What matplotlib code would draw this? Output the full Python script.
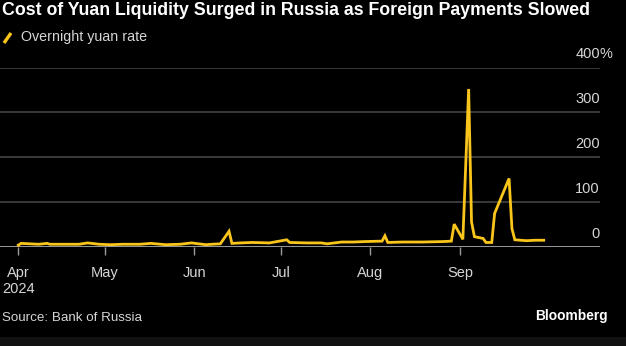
import matplotlib
matplotlib.use("Agg")
import matplotlib.pyplot as plt
import matplotlib.transforms as mtransforms
import pandas as pd

# Overnight yuan repo rate, % (Bank of Russia)
dates = [
    "2024-04-01", "2024-04-02", "2024-04-05", "2024-04-08", "2024-04-11",
    "2024-04-12", "2024-04-16", "2024-04-22", "2024-04-25", "2024-04-29",
    "2024-05-03", "2024-05-07", "2024-05-13", "2024-05-17", "2024-05-22",
    "2024-05-27", "2024-05-31", "2024-06-05", "2024-06-07", "2024-06-10",
    "2024-06-13", "2024-06-14", "2024-06-17", "2024-06-21", "2024-06-27",
    "2024-07-03", "2024-07-04", "2024-07-10", "2024-07-15", "2024-07-17",
    "2024-07-22", "2024-07-26", "2024-07-30", "2024-08-05", "2024-08-06",
    "2024-08-07", "2024-08-12", "2024-08-19", "2024-08-26", "2024-08-29",
    "2024-08-30", "2024-09-02", "2024-09-04", "2024-09-05", "2024-09-06",
    "2024-09-09", "2024-09-10", "2024-09-12", "2024-09-13", "2024-09-18",
    "2024-09-19", "2024-09-20", "2024-09-24", "2024-09-27", "2024-09-30",
]
rate = [
    3, 7, 6, 5, 7,
    5, 5, 5, 8, 5,
    4, 5, 5, 7, 4,
    5, 8, 4, 5, 6,
    34, 7, 8, 9, 8,
    15, 9, 8, 8, 6,
    10, 10, 11, 12, 24,
    9, 10, 10, 11, 12,
    50, 16, 352, 55, 22,
    18, 9, 9, 74, 152,
    40, 15, 13, 14, 14,
]

y_ticks = [0, 100, 200, 300, 400]
month_ticks = ["2024-04-01", "2024-05-01", "2024-06-01", "2024-07-01",
               "2024-08-01", "2024-09-01"]
month_labels = ["Apr\n2024", "May", "Jun", "Jul", "Aug", "Sep"]

title = "Cost of Yuan Liquidity Surged in Russia as Foreign Payments Slowed"
legend_label = "Overnight yuan rate"
source = "Source: Bank of Russia"

BG = "#000000"
LINE = "#F9C51A"
GRID = "#4a4a4a"
AXIS = "#9a9a9a"
TXT = "#d6d6d6"
FONT = "Liberation Sans"

W, H = 626, 346
fig = plt.figure(figsize=(W / 100, H / 100), dpi=100, facecolor=BG)

# footer band
fig.patches.append(plt.Rectangle((0, 0), 1, 9 / H, transform=fig.transFigure,
                                 facecolor="#111111", edgecolor="none"))

y0_px, y400_px = 246.5, 67.5
ax = fig.add_axes([0, (H - y0_px) / H, 600 / W, (y0_px - y400_px) / H])
ax.set_facecolor(BG)
for s in ax.spines.values():
    s.set_visible(False)

x = pd.to_datetime(dates)
ax.set_xlim(pd.Timestamp("2024-03-25 16:00"), pd.Timestamp("2024-10-19 12:00"))
ax.set_ylim(0, 400)

for v in y_ticks[1:]:
    ax.axhline(v, color=GRID, lw=1.1, zorder=1)
ax.axhline(0, color=AXIS, lw=1.4, zorder=1)

ax.plot(x, rate, color=LINE, lw=2.0, solid_joinstyle="miter", zorder=3,
        clip_on=False)

ax.set_yticks([])
ax.set_xticks(pd.to_datetime(month_ticks))
ax.set_xticklabels(month_labels, fontsize=10.5, color=TXT, family=FONT,
                   linespacing=1.15)
ax.tick_params(axis="x", length=6, width=1, color=AXIS, pad=8)

# value labels sit above the right end of each gridline
blend = mtransforms.blended_transform_factory(ax.transAxes, ax.transData)
lab_tr = blend + mtransforms.ScaledTranslation(0, 6 / 100, fig.dpi_scale_trans)
for v in y_ticks:
    ax.text(1.0, v, str(v), transform=lab_tr, ha="right", va="bottom",
            fontsize=10.5, color=TXT, family=FONT)
ax.text(1.0, 400, "%", transform=lab_tr, ha="left", va="bottom",
        fontsize=10.5, color=TXT, family=FONT)

# title, fitted to its width
t = fig.text(2 / W, 1 - 2 / H, title, ha="left", va="top", fontsize=13,
             fontweight="bold", color="white", family=FONT)
fig.canvas.draw()
r = fig.canvas.get_renderer()
bb = t.get_window_extent(r)
t.set_fontsize(13 * 586 / bb.width)

# legend key
fig.add_artist(plt.Line2D([4 / W, 11 / W], [1 - 43 / H, 1 - 33 / H],
                          transform=fig.transFigure, color=LINE, lw=2.4,
                          solid_capstyle="butt"))
fig.text(21 / W, 1 - 37.5 / H, legend_label, ha="left", va="center",
         fontsize=10.3, color=TXT, family=FONT)

fig.text(2 / W, 1 - 318 / H, source, ha="left", va="center",
         fontsize=9.6, color=TXT, family=FONT)
fig.text(608 / W, 1 - 316 / H, "Bloomberg", ha="right", va="center",
         fontsize=9.9, fontweight="bold", color="white", family=FONT)

fig.savefig("out.png", dpi=100, facecolor=BG)
